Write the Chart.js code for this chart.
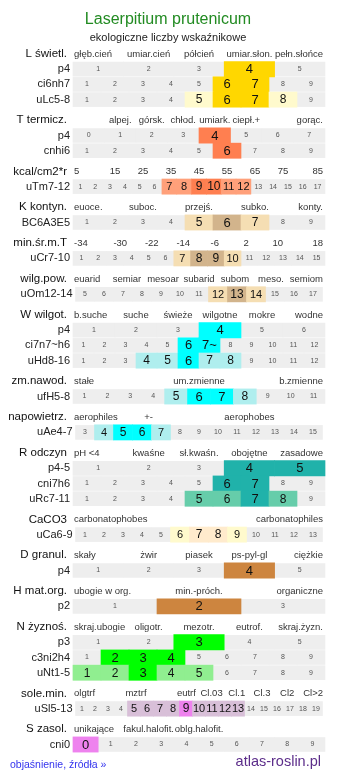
<!DOCTYPE html>
<html lang="pl">
<head>
<meta charset="utf-8">
<title>Laserpitium prutenicum</title>
<script src="https://cdn.jsdelivr.net/npm/chart.js@4.4.0/dist/chart.umd.min.js"></script>
<style>
  html, body { margin: 0; padding: 0; background: #fff; overflow: hidden; }
  canvas { display: block; }
</style>
</head>
<body>
<canvas id="chart" width="337" height="781"></canvas>
<script>
const FONT = '"Liberation Sans", Arial, sans-serif';

// groups (header rows) and the terms written above their cells
const groupNames = ['L świetl.', 'T termicz.', 'kcal/cm2*r', 'K kontyn.', 'min.śr.m.T', 'wilg.pow.',
  'W wilgot.', 'zm.nawod.', 'napowietrz.', 'R odczyn', 'CaCO3', 'D granul.', 'H mat.org.',
  'N żyznoś.', 'sole.min.', 'S zasol.'];
const groupTerms = [
  ['głęb.cień', 'umiar.cień', 'półcień', 'umiar.słon.', 'pełn.słońce'],
  ['', 'alpej.', 'górsk.', 'chłod.', 'umiark.', 'ciepł.+', '', 'gorąc.'],
  ['5', '15', '25', '35', '45', '55', '65', '75', '85'],
  ['euoce.', '', 'suboc.', '', 'przejś.', '', 'subko.', '', 'konty.'],
  ['-34', '-30', '-22', '-14', '-6', '2', '10', '18'],
  ['euarid', 'semiar', 'mesoar', 'subarid', 'subom', 'meso.', 'semiom'],
  ['b.suche', 'suche', 'świeże', 'wilgotne', 'mokre', 'wodne'],
  ['stałe', 'um.zmienne', 'b.zmienne'],
  ['aerophiles', '+-', '', 'aerophobes', ''],
  ['pH <4', 'kwaśne', 'sł.kwaśn.', 'obojętne', 'zasadowe'],
  ['carbonatophobes', 'carbonatophiles'],
  ['skały', 'żwir', 'piasek', 'ps-pyl-gl', 'ciężkie'],
  ['ubogie w org.', 'min.-próch.', 'organiczne'],
  ['skraj.ubogie', 'oligotr.', 'mezotr.', 'eutrof.', 'skraj.żyzn.'],
  ['olgtrf', '', 'mztrf', '', 'eutrf', 'Cl.03', 'Cl.1', 'Cl.3', 'Cl2', 'Cl>2'],
  ['unikające', 'fakul.halofit.', 'oblg.halofit.', '', '']
];

// data rows
const rowGroup = [0, 0, 0, 1, 1, 2, 3, 4, 5, 6, 6, 6, 7, 8, 9, 9, 9, 10, 11, 12, 13, 13, 13, 14, 15];
const rowLabels = ['p4', 'ci6nh7', 'uLc5-8', 'p4', 'cnhi6', 'uTm7-12', 'BC6A3E5', 'uCr7-10', 'uOm12-14',
  'p4', 'ci7n7~h6', 'uHd8-16', 'ufH5-8', 'uAe4-7', 'p4-5', 'cni7h6', 'uRc7-11', 'uCa6-9', 'p4', 'p2',
  'p3', 'c3ni2h4', 'uNt1-5', 'uSl5-13', 'cni0'];
const rowTicks = [
  [1, 2, 3, 4, 5],
  [1, 2, 3, 4, 5, 6, 7, 8, 9],
  [1, 2, 3, 4, 5, 6, 7, 8, 9],
  [0, 1, 2, 3, 4, 5, 6, 7],
  [1, 2, 3, 4, 5, 6, 7, 8, 9],
  [1, 2, 3, 4, 5, 6, 7, 8, 9, 10, 11, 12, 13, 14, 15, 16, 17],
  [1, 2, 3, 4, 5, 6, 7, 8, 9],
  [1, 2, 3, 4, 5, 6, 7, 8, 9, 10, 11, 12, 13, 14, 15],
  [5, 6, 7, 8, 9, 10, 11, 12, 13, 14, 15, 16, 17],
  [1, 2, 3, 4, 5, 6],
  [1, 2, 3, 4, 5, 6, '7~', 8, 9, 10, 11, 12],
  [1, 2, 3, 4, 5, 6, 7, 8, 9, 10, 11, 12],
  [1, 2, 3, 4, 5, 6, 7, 8, 9, 10, 11],
  [3, 4, 5, 6, 7, 8, 9, 10, 11, 12, 13, 14, 15],
  [1, 2, 3, 4, 5],
  [1, 2, 3, 4, 5, 6, 7, 8, 9],
  [1, 2, 3, 4, 5, 6, 7, 8, 9],
  [1, 2, 3, 4, 5, 6, 7, 8, 9, 10, 11, 12, 13],
  [1, 2, 3, 4, 5],
  [1, 2, 3],
  [1, 2, 3, 4, 5],
  [1, 2, 3, 4, 5, 6, 7, 8, 9],
  [1, 2, 3, 4, 5, 6, 7, 8, 9],
  [1, 2, 3, 4, 5, 6, 7, 8, 9, 10, 11, 12, 13, 14, 15, 16, 17, 18, 19],
  [0, 1, 2, 3, 4, 5, 6, 7, 8, 9]
];
// main values (dark cells) and range values (light cells)
const rowStrong = [[4], [6, 7], [6, 7], [4], [6], [9, 10], [6], [8, 9], [13], [4], [6, '7~'], [6],
  [6, 7], [5, 6], [4, 5], [6, 7], [7], [7, 8], [4], [2], [3], [2, 3, 4], [3], [9], [0]];
const rowLight = [[], [], [5, 8], [], [], [7, 8, 11, 12], [5, 7], [7, 10], [12, 14], [], [], [4, 5, 7, 8],
  [5, 8], [4, 7], [], [], [5, 6, 8], [6, 9], [], [], [], [], [1, 2, 4, 5], [5, 6, 7, 8, 10, 11, 12, 13], []];

const strongColors = ['#ffd700', '#ff7f50', '#ff7f50', '#d2b48c', '#d2b48c', '#d2b48c', '#00ffff', '#00ffff',
  '#00ffff', '#20b2aa', '#ffebcd', '#cd853f', '#cd853f', '#00ff00', '#ee82ee', '#ee82ee'];
const lightColors = ['#fffacd', '#ffa07a', '#ffa07a', '#f5deb3', '#f5deb3', '#f5deb3', '#afeeee', '#afeeee',
  '#afeeee', '#66cdaa', '#fffacd', '#deb887', '#deb887', '#90ee90', '#d8bfd8', '#d8bfd8'];

// layout
const ROW_H = 15.2, GAP = 5.5, TOP = 54, LEFT = 73, WIDTH = 252;
const W = 337, H = 781;

// vertical position of each header and row, in row units
const headerPos = [], rowPos = [];
let pos = 0;
groupNames.forEach((g, gi) => {
  if (gi > 0) pos += GAP / ROW_H;
  headerPos.push(pos);
  pos += 1;
  rowGroup.forEach((rg, ri) => {
    if (rg === gi) { rowPos[ri] = pos; pos += 1; }
  });
});

// rows of 13 and 19 cells use whole-pixel cells, so they come out a bit narrower
function rowSpan(n) {
  const w = (n === 13 || n === 19) ? Math.floor(WIDTH / n) * n : WIDTH;
  const a = (WIDTH - w) / 2 / WIDTH;
  return [a, a + w / WIDTH];
}

function level(r, t) {
  const s = String(t);
  if (rowStrong[r].map(String).includes(s)) return 2;
  if (rowLight[r].map(String).includes(s)) return 1;
  return 0;
}

const grayCells = [], markCells = [], markColors = [];
rowTicks.forEach((ticks, r) => {
  const [a, b] = rowSpan(ticks.length);
  const w = (b - a) / ticks.length;
  ticks.forEach((t, i) => {
    const cell = { x: [a + i * w, a + (i + 1) * w], y: rowPos[r] };
    grayCells.push(cell);
    const lv = level(r, t);
    if (lv > 0) {
      markCells.push(cell);
      markColors.push(lv === 2 ? strongColors[rowGroup[r]] : lightColors[rowGroup[r]]);
    }
  });
});

const textPlugin = {
  id: 'texts',
  afterDatasetsDraw(chart) {
    const ctx = chart.ctx;
    const xs = chart.scales.x, ys = chart.scales.y;
    ctx.save();
    ctx.textBaseline = 'middle';

    // title, subtitle
    ctx.textAlign = 'center';
    ctx.fillStyle = '#228b22';
    ctx.font = '16px ' + FONT;
    ctx.fillText('Laserpitium prutenicum', 168, 20);
    ctx.fillStyle = '#222';
    ctx.font = '11px ' + FONT;
    ctx.fillText('ekologiczne liczby wskaźnikowe', 168, 38);

    // header rows
    groupNames.forEach((g, gi) => {
      const y = ys.getPixelForValue(headerPos[gi]);
      ctx.fillStyle = '#111';
      ctx.font = '11.5px ' + FONT;
      ctx.textAlign = 'right';
      ctx.fillText(g, 67, y);
      const terms = groupTerms[gi];
      const n = terms.length;
      ctx.fillStyle = '#333';
      ctx.font = '9.5px ' + FONT;
      terms.forEach((t, i) => {
        if (!t) return;
        if (i === 0) {
          ctx.textAlign = 'left';
          ctx.fillText(t, xs.getPixelForValue(0) + 1, y);
        } else if (i === n - 1) {
          ctx.textAlign = 'right';
          ctx.fillText(t, xs.getPixelForValue(1) - 2, y);
        } else {
          ctx.textAlign = 'center';
          ctx.fillText(t, xs.getPixelForValue((i + 0.5) / n), y);
        }
      });
    });

    // data rows
    rowTicks.forEach((ticks, r) => {
      const y = ys.getPixelForValue(rowPos[r]);
      const [a, b] = rowSpan(ticks.length);
      const w = (b - a) / ticks.length;
      ctx.textAlign = 'right';
      ctx.fillStyle = '#222';
      ctx.font = '11px ' + FONT;
      ctx.fillText(rowLabels[r], xs.getPixelForValue(a) - 3, y);
      const cellPx = xs.getPixelForValue(w) - xs.getPixelForValue(0);
      ctx.textAlign = 'center';
      ticks.forEach((t, i) => {
        const x = xs.getPixelForValue(a + (i + 0.5) * w);
        const lv = level(r, t);
        if (lv === 0) {
          ctx.fillStyle = '#555';
          ctx.font = '7px ' + FONT;
          ctx.fillText(String(t), x, y);
        } else {
          ctx.fillStyle = '#111';
          const size = cellPx < 20 ? (lv === 2 ? 12 : 11) : (lv === 2 ? 13 : 12);
          ctx.font = size + 'px ' + FONT;
          ctx.fillText(String(t), x, y + 0.5);
        }
      });
    });

    // footer
    ctx.textAlign = 'left';
    ctx.fillStyle = '#3333ee';
    ctx.font = '10.5px ' + FONT;
    ctx.fillText('objaśnienie, źródła »', 10, 765);
    ctx.textAlign = 'right';
    ctx.fillStyle = '#5c2d8a';
    ctx.font = '14.5px ' + FONT;
    ctx.fillText('atlas-roslin.pl', 321, 762);
    ctx.restore();
  }
};

new Chart(document.getElementById('chart'), {
  type: 'bar',
  data: {
    datasets: [
      {
        label: 'values',
        data: markCells,
        backgroundColor: markColors,
        barThickness: ROW_H,
        order: 1
      },
      {
        label: 'scale',
        data: grayCells,
        backgroundColor: '#eeeeee',
        barThickness: 14,
        order: 2
      }
    ]
  },
  options: {
    indexAxis: 'y',
    responsive: false,
    animation: false,
    layout: { padding: 0 },
    datasets: { bar: { grouped: false, borderWidth: 0 } },
    scales: {
      x: { type: 'linear', display: false, offset: false, min: -LEFT / WIDTH, max: (W - LEFT) / WIDTH },
      y: { type: 'linear', display: false, offset: false, reverse: true, min: -TOP / ROW_H, max: (H - TOP) / ROW_H }
    },
    plugins: { legend: { display: false }, tooltip: { enabled: false } }
  },
  plugins: [textPlugin]
});
</script>
</body>
</html>
